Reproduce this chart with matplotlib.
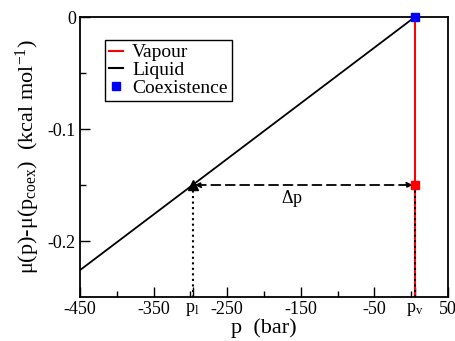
import matplotlib
matplotlib.use("Agg")
import matplotlib.pyplot as plt
from matplotlib.lines import Line2D

plt.rcParams['font.family'] = ['Liberation Serif', 'DejaVu Serif']
plt.rcParams['mathtext.fontset'] = 'custom'
plt.rcParams['mathtext.rm'] = 'Liberation Serif'
plt.rcParams['mathtext.it'] = 'Liberation Serif:italic'
plt.rcParams['mathtext.default'] = 'rm'

# Data
liquid_p = [-450, 5]
liquid_mu = [-0.226, 0.0]
vapour_p = [5, 5]
vapour_mu = [0.0, -0.25]
p_l = -297
p_v = 5
mu_mark = -0.15
coex_p = [5]
coex_mu = [0.0]
xticks_major = [-450, -350, p_l, -250, -150, -50, p_v, 50]
xtick_labels = ['-450', '-350', r'p$_\mathrm{l}$', '-250', '-150', '-50', r'p$_\mathrm{v}$', '50']
yticks_major = [0, -0.1, -0.2]
ytick_labels = ['0', '-0.1', '-0.2']

fig = plt.figure(figsize=(4.55, 3.41), dpi=100)
ax = fig.add_axes([80/455, 1-297/341, 368/455, 280/341])

ax.plot(vapour_p, vapour_mu, color='red', lw=1.5, zorder=3)
ax.plot(liquid_p, liquid_mu, color='black', lw=1.3, zorder=3)
ax.plot([p_l, p_l], [mu_mark, -0.25], color='black', ls=':', lw=1.5, zorder=4)
ax.plot([p_v, p_v], [mu_mark, -0.25], color='black', ls=':', lw=1.5, zorder=4)
ax.annotate('', xy=(p_v - 3, mu_mark), xytext=(p_l + 3, mu_mark),
            arrowprops=dict(arrowstyle='<|-|>', ls=(0, (5, 3)), lw=1.3, color='black',
                            mutation_scale=8, shrinkA=0, shrinkB=0), zorder=4)
ax.text(-162, -0.162, r'$\Delta$p', ha='center', va='center', fontsize=13)
ax.plot([p_l], [mu_mark], marker='^', color='black', ms=7, zorder=5)
ax.plot([p_v], [mu_mark], marker='s', color='red', ms=6, zorder=5)
ax.plot(coex_p, coex_mu, marker='s', color='blue', ms=6, ls='none', zorder=6, clip_on=False)

ax.set_xlim(-450, 50)
ax.set_ylim(-0.25, 0)
ax.set_xticks(xticks_major)
ax.set_xticklabels(xtick_labels, fontsize=13)
ax.set_xticks([-400, -300, -200, -100, 0], minor=True)
ax.set_yticks(yticks_major)
ax.set_yticklabels(ytick_labels, fontsize=13)
ax.set_yticks([-0.05, -0.15], minor=True)
ax.tick_params(which='both', direction='in', top=False, right=False)
ax.tick_params(which='major', length=7, width=1, pad=3)
ax.tick_params(which='minor', length=4, width=1)
for s in ax.spines.values():
    s.set_linewidth(1.3)

ax.set_xlabel('p  (bar)', fontsize=16, labelpad=0)
ax.set_ylabel(r'$\mu$(p)-$\mu$(p$_\mathrm{coex}$)  (kcal mol$^{-1}$)', fontsize=16, labelpad=4)

handles = [Line2D([], [], color='red', lw=1.5),
           Line2D([], [], color='black', lw=1.5),
           Line2D([], [], color='blue', marker='s', ls='none', ms=6)]
leg = ax.legend(handles, ['Vapour', 'Liquid', 'Coexistence'], loc='upper left',
                bbox_to_anchor=(0.068, 0.918), fontsize=14, fancybox=False,
                edgecolor='black', framealpha=1, handlelength=0.7, handletextpad=0.5,
                borderpad=0.2, labelspacing=0.0, borderaxespad=0)
leg.get_frame().set_linewidth(1.0)

fig.savefig('out.png', dpi=100)
